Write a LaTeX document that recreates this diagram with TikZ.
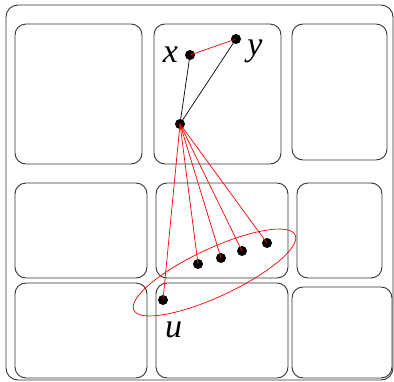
\documentclass[tikz,border=0pt]{standalone}
\usepackage{fontspec}
\setmainfont{Liberation Serif}
\begin{document}
\begin{tikzpicture}[x=1pt,y=-1pt,
  cell/.style={draw=black!80,line width=0.9pt,rounded corners=11pt},
  dot/.style={circle,fill=black,inner sep=0pt,minimum size=10pt},
  lab/.style={font=\fontsize{34}{34}\selectfont\itshape,inner sep=0pt,anchor=base},
  redl/.style={red,line width=0.7pt},
  blkl/.style={black,line width=0.7pt}]
\useasboundingbox (0,0) rectangle (394,381);
\draw[cell,rounded corners=12pt] (6,5) rectangle (393,380);
% row 1
\draw[cell] (15,24) rectangle (142,164);
\draw[cell] (154,24) rectangle (281,164);
\draw[cell] (292,24) rectangle (387,160);
% row 2
\draw[cell] (15,183) rectangle (147,278);
\draw[cell] (156,183) rectangle (288,278);
\draw[cell] (297,183) rectangle (382,278);
% row 3
\draw[cell] (15,283) rectangle (147,378);
\draw[cell] (156,283) rectangle (288,378);
\draw[cell] (292,287) rectangle (392,378);
% ellipse
\draw[redl] (214.5,272.5) ellipse [x radius=89, y radius=24, rotate=25];
% dots
\node[dot] (x) at (190,55) {};
\node[dot] (y) at (236,39) {};
\node[dot] (c) at (180,124) {};
\node[dot] (d1) at (198,264) {};
\node[dot] (d2) at (221,258) {};
\node[dot] (d3) at (242,251) {};
\node[dot] (d4) at (267,243) {};
\node[dot] (u) at (163,300) {};
% labels
\node[lab] (lx) at (170.5,62.5) {x};
\node[lab] (ly) at (255,55) {y};
\node[lab] (lu) at (173.5,337) {u};
% connectors
\draw[redl] (x.center) -- (y.center);
\draw[blkl] (c.center) -- (x.center);
\draw[blkl] (c.center) -- (y.center);
\foreach \t in {d1,d2,d3,d4,u}
  \draw[redl] (c.center) -- (\t.center);
\end{tikzpicture}
\end{document}
